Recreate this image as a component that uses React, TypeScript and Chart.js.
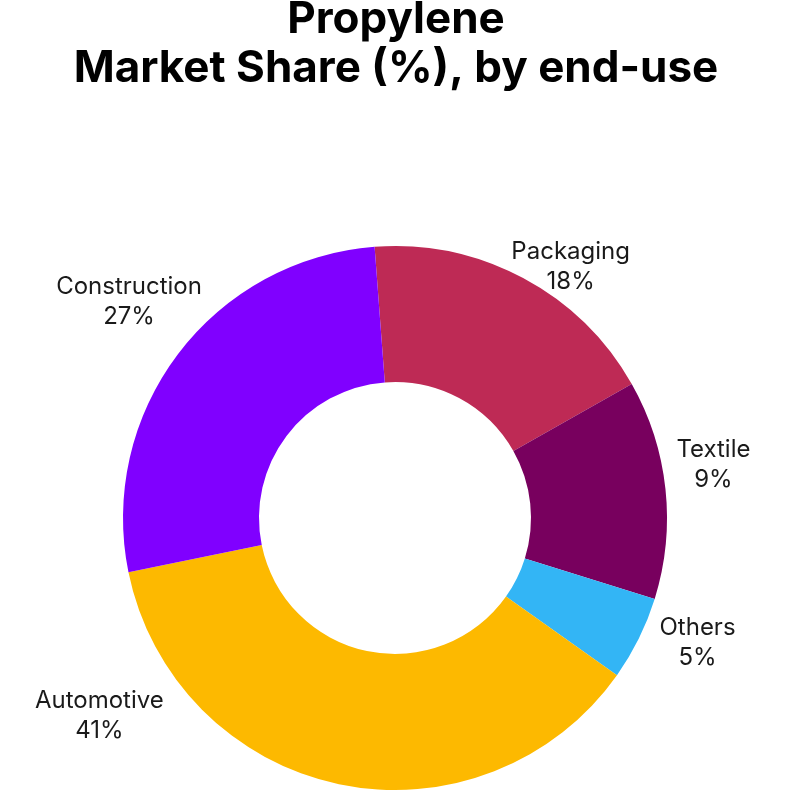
import React, { useEffect, useRef } from "react";
import { Chart, registerables } from "chart.js";

Chart.register(...registerables);

const categories = ["Packaging", "Textile", "Others", "Automotive", "Construction"];
const shareValues = [18, 13, 5, 37, 27];
const shareLabels = ["18%", "9%", "5%", "41%", "27%"];
const sliceColors = ["#BE2A55", "#78005E", "#33B5F5", "#FDB900", "#8000FF"];
const titleLines = ["Propylene", "Market Share (%), by end-use"];

// label anchor: angle (deg clockwise from top) and distance as multiple of outer radius
const labelAnchors = [
  { angle: 35.0, dist: 1.126 },
  { angle: 80.5, dist: 1.187 },
  { angle: 112.4, dist: 1.203 },
  { angle: 236.2, dist: 1.308 },
  { angle: 309.1, dist: 1.26 },
];

const outsideLabels = {
  id: "outsideLabels",
  afterDatasetsDraw(chart: any) {
    const ctx = chart.ctx;
    const meta = chart.getDatasetMeta(0);
    ctx.save();
    ctx.font = "24px Inter";
    ctx.fillStyle = "#1a1a1a";
    ctx.textAlign = "center";
    ctx.textBaseline = "middle";
    meta.data.forEach((arc: any, i: number) => {
      const a = labelAnchors[i];
      const rad = (a.angle * Math.PI) / 180;
      const r = arc.outerRadius * a.dist;
      const x = arc.x + Math.sin(rad) * r;
      const y = arc.y - Math.cos(rad) * r;
      ctx.fillText(categories[i], x, y - 15);
      ctx.fillText(shareLabels[i], x, y + 15);
    });
    ctx.restore();
  },
};

const chartTitle = {
  id: "chartTitle",
  afterDraw(chart: any) {
    const ctx = chart.ctx;
    ctx.save();
    ctx.font = "bold 44px Inter";
    ctx.fillStyle = "#000";
    ctx.textAlign = "center";
    ctx.textBaseline = "middle";
    titleLines.forEach((line, i) => {
      ctx.fillText(line, 396, 20 + i * 49);
    });
    ctx.restore();
  },
};

export default function App() {
  const ref = useRef<HTMLCanvasElement>(null);
  useEffect(() => {
    document.body.style.margin = "0";
    const chart = new Chart(ref.current!, {
      type: "doughnut",
      data: {
        labels: categories,
        datasets: [
          {
            data: shareValues,
            backgroundColor: sliceColors,
            borderWidth: 0,
          },
        ],
      },
      options: {
        responsive: false,
        animation: false,
        devicePixelRatio: 1,
        cutout: "50%",
        rotation: -4.3,
        layout: { padding: { left: 123, right: 135, top: 246, bottom: 5 } },
        plugins: {
          legend: { display: false },
          tooltip: { enabled: false },
          title: { display: false },
        },
      },
      plugins: [outsideLabels, chartTitle],
    });
    return () => chart.destroy();
  }, []);
  return (
    <div style={{ width: 802, height: 795, background: "#fff" }}>
      <canvas ref={ref} width={802} height={795} />
    </div>
  );
}
